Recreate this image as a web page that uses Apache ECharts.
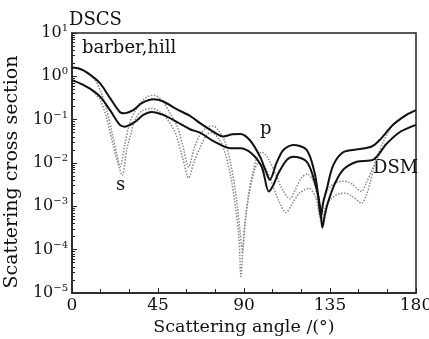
<!DOCTYPE html>
<html>
<head>
<meta charset="utf-8">
<script src="https://cdn.jsdelivr.net/npm/echarts@6/dist/echarts.min.js"></script>
<style>
  html, body { margin: 0; padding: 0; background: #fff; }
  #chart { width: 429px; height: 339px; }
</style>
</head>
<body>
<div id="chart"></div>
<script>
// scattering angle (deg) and cross section values
const xTicks = [0, 45, 90, 135, 180];
const yTickExps = [1, 0, -1, -2, -3, -4, -5];

// upper solid curve
const solidUpperAngles = [0, 4, 8.5, 14.7, 20, 25, 27, 32, 36.5, 42.5, 47.8, 54.8, 61.7, 67, 73, 79.2, 84, 88, 93, 98.4, 101.5, 103.5, 107, 110.6, 115.8, 122.8, 127, 128.9, 130.2, 131.5, 133.3, 136.7, 142, 150.7, 156.8, 161, 168, 175, 180];
const solidUpperValues = [1.6, 1.5, 1.17, 0.69, 0.31, 0.15, 0.14, 0.166, 0.24, 0.295, 0.263, 0.174, 0.123, 0.083, 0.056, 0.041, 0.046, 0.047, 0.034, 0.014, 0.0063, 0.0041, 0.01, 0.02, 0.026, 0.02, 0.0058, 0.00166, 0.00056, 0.00126, 0.0025, 0.0089, 0.0178, 0.021, 0.024, 0.034, 0.076, 0.129, 0.166];

// lower solid curve
const solidLowerAngles = [0, 4.2, 9.4, 14.7, 19.9, 25, 27.7, 33, 37.3, 41.7, 47.8, 54.8, 61.7, 67, 74, 82.7, 88, 94, 99.3, 103, 105.5, 108, 112.3, 115.8, 122.8, 127.2, 129.8, 131, 132.3, 134, 137.6, 142, 149, 157.7, 164.7, 171.6, 180];
const solidLowerValues = [0.82, 0.69, 0.52, 0.34, 0.166, 0.076, 0.069, 0.089, 0.129, 0.151, 0.129, 0.089, 0.06, 0.05, 0.032, 0.022, 0.022, 0.0166, 0.0081, 0.0022, 0.0032, 0.0058, 0.0117, 0.014, 0.0107, 0.0034, 0.001, 0.00032, 0.00063, 0.00126, 0.0034, 0.0071, 0.0107, 0.012, 0.028, 0.052, 0.076];

// upper dotted curve
const dotUpperAngles = [0, 4, 8.5, 12, 15, 18, 21, 23.5, 25.3, 27.5, 30, 33, 36.5, 40, 43, 47, 51, 55, 58, 61, 64, 67, 71, 74, 76.5, 80, 83, 86, 88, 89.2, 90.5, 92.5, 95, 97, 99.2, 102, 106, 110, 114, 117, 120, 123, 126, 128.5, 130, 131.5, 134, 138, 142, 146, 149, 151.6, 154, 157, 160, 163, 168, 175, 180];
const dotUpperValues = [1.6, 1.5, 1.17, 0.83, 0.45, 0.178, 0.05, 0.0158, 0.0083, 0.025, 0.079, 0.158, 0.263, 0.347, 0.363, 0.282, 0.15, 0.071, 0.025, 0.0081, 0.0224, 0.045, 0.068, 0.071, 0.058, 0.0316, 0.01, 0.00158, 0.00025, 0.000089, 0.0004, 0.002, 0.0071, 0.0141, 0.0178, 0.0141, 0.0063, 0.0025, 0.0015, 0.0025, 0.0045, 0.0056, 0.004, 0.0016, 0.00063, 0.00126, 0.0025, 0.0035, 0.0038, 0.0034, 0.0026, 0.0022, 0.0035, 0.0069, 0.015, 0.0316, 0.076, 0.129, 0.166];

// lower dotted curve
const dotLowerAngles = [0, 4.2, 9.4, 13, 15, 18, 21.6, 24, 26.3, 28.6, 31, 33, 36.5, 42, 46, 50, 54, 58, 61, 64, 67, 70.5, 73, 77, 80, 83, 85.5, 87.3, 88.4, 89.5, 91, 92.5, 95, 97.5, 101, 104, 108, 112, 115, 119, 124, 127.5, 130.5, 132.5, 135, 139, 143, 147, 151.6, 154, 156, 158, 160, 163, 166, 171.6, 180];
const dotLowerValues = [0.82, 0.69, 0.52, 0.355, 0.28, 0.112, 0.025, 0.01, 0.0052, 0.02, 0.05, 0.1, 0.158, 0.182, 0.151, 0.1, 0.05, 0.0126, 0.0045, 0.0112, 0.0224, 0.045, 0.05, 0.035, 0.0178, 0.005, 0.001, 0.0002, 0.000024, 0.000126, 0.00063, 0.00178, 0.0056, 0.01, 0.0079, 0.004, 0.0014, 0.00072, 0.0011, 0.002, 0.0026, 0.0016, 0.00045, 0.0009, 0.0014, 0.0019, 0.002, 0.00166, 0.00117, 0.0018, 0.0035, 0.0079, 0.0132, 0.024, 0.032, 0.052, 0.076];

const pairs = (xs, ys) => xs.map((x, i) => [x, ys[i]]);
const serif = "DejaVu Serif";

const chart = echarts.init(document.getElementById("chart"));

const solid = (name, xs, ys) => ({
  name,
  type: "line",
  data: pairs(xs, ys),
  showSymbol: false,
  smooth: 0.3,
  lineStyle: { color: "#111", width: 2 },
  z: 3,
});

const dotted = (name, xs, ys) => ({
  name,
  type: "line",
  data: pairs(xs, ys),
  showSymbol: false,
  smooth: 0.3,
  lineStyle: { color: "#888", width: 1.5, type: "dotted" },
  z: 2,
});

chart.setOption({
  animation: false,
  grid: {
    left: 72, right: 13, top: 33, bottom: 46,
    outerBoundsMode: "none",
    containLabel: false,
    show: true, borderColor: "#222", borderWidth: 1.5,
  },
  xAxis: {
    type: "value",
    min: 0,
    max: 180,
    interval: 45,
    name: "Scattering angle /(°)",
    nameLocation: "middle",
    nameGap: 23,
    nameTextStyle: { fontFamily: serif, fontSize: 17.5, color: "#111" },
    axisLine: { lineStyle: { color: "#222", width: 1.5 } },
    axisTick: { inside: true, length: 5, lineStyle: { color: "#222" } },
    minorTick: { show: true, splitNumber: 3, length: 4, lineStyle: { color: "#222" } },
    splitLine: { show: false },
    axisLabel: {
      margin: 4,
      fontFamily: serif, fontSize: 17, color: "#111",
      formatter: (v) => (xTicks.includes(v) ? String(v) : ""),
    },
  },
  yAxis: {
    type: "log",
    min: Math.pow(10, yTickExps[yTickExps.length - 1]),
    max: Math.pow(10, yTickExps[0]),
    logBase: 10,
    name: "Scattering cross section",
    nameLocation: "middle",
    nameGap: 44,
    nameTextStyle: { fontFamily: serif, fontSize: 19, color: "#111", padding: [0, 18, 0, 0] },
    axisLine: { show: true, lineStyle: { color: "#222", width: 1.5 } },
    axisTick: { inside: true, length: 5, lineStyle: { color: "#222" } },
    minorTick: { show: true, splitNumber: 9, length: 3, lineStyle: { color: "#222" } },
    splitLine: { show: false },
    axisLabel: {
      margin: 4,
      fontFamily: serif, fontSize: 16, color: "#111",
      formatter: (v) => {
        const e = Math.round(Math.log10(v));
        return "10{s|" + (e < 0 ? "−" + (-e) : e) + "}";
      },
      rich: {
        s: { fontFamily: serif, fontSize: 10, color: "#111", padding: [0, 0, 9, 0] },
      },
    },
  },
  series: [
    dotted("dotUpper", dotUpperAngles, dotUpperValues),
    dotted("dotLower", dotLowerAngles, dotLowerValues),
    solid("solidUpper", solidUpperAngles, solidUpperValues),
    solid("solidLower", solidLowerAngles, solidLowerValues),
  ],
  graphic: [
    { type: "text", left: 69, top: 11, style: { text: "DSCS", font: "18px " + serif, fill: "#111" } },
    { type: "text", left: 82, top: 39, style: { text: "barber,hill", font: "18px " + serif, fill: "#111" } },
    { type: "text", left: 260, top: 120, style: { text: "p", font: "18px " + serif, fill: "#111" } },
    { type: "text", left: 116, top: 176, style: { text: "s", font: "18px " + serif, fill: "#111" } },
    { type: "text", left: 373, top: 159, style: { text: "DSM", font: "18px " + serif, fill: "#111" } },
  ],
});
</script>
</body>
</html>
